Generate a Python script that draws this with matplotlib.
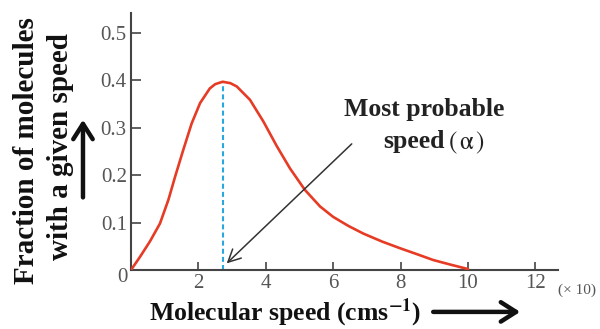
import matplotlib.pyplot as plt
from matplotlib.patches import FancyArrowPatch

# molecular speed (x 10 cm/s) vs fraction of molecules
speed = [0, 0.27, 0.56, 0.86, 1.11, 1.31, 1.55, 1.80, 2.05, 2.34, 2.5, 2.72, 2.95, 3.14,
         3.53, 3.93, 4.32, 4.72, 5.16, 5.61, 6.0, 6.45, 6.89, 7.45, 7.98, 8.5, 8.97, 9.5, 10.0]
fraction = [0, 0.028, 0.060, 0.098, 0.148, 0.197, 0.253, 0.309, 0.352, 0.383, 0.392, 0.397,
            0.394, 0.387, 0.359, 0.313, 0.262, 0.214, 0.169, 0.134, 0.112, 0.093, 0.077,
            0.060, 0.046, 0.033, 0.021, 0.011, 0.002]
peak_x, peak_y = 2.72, 0.397
xticks = [2, 4, 6, 8, 10, 12]
yticks = [0.1, 0.2, 0.3, 0.4, 0.5]
ytick_labels = ['0.1', '0.2', '0.3', '0.4', '0.5']

plt.rcParams['font.family'] = ['Liberation Serif', 'DejaVu Serif']
plt.rcParams['mathtext.fontset'] = 'stix'

fig = plt.figure(figsize=(6, 3.29), dpi=100)
ax = fig.add_axes([0.2183, 0.1793, 0.7117, 0.7812])

ax.plot(speed, fraction, color='#e63b25', lw=1.9, solid_joinstyle='round',
        solid_capstyle='round', zorder=3)
ax.plot([peak_x, peak_x], [0, peak_y], color='#2aa7df', lw=1.5, ls=(0, (2.4, 1.5)))

ax.set_xlim(0, 12.67)
ax.set_ylim(0, 0.542)
for s in ['top', 'right']:
    ax.spines[s].set_visible(False)
for s in ['left', 'bottom']:
    ax.spines[s].set_color('#444444')
    ax.spines[s].set_linewidth(1.5)

ax.set_xticks(xticks)
ax.set_yticks(yticks)
ax.set_yticklabels(ytick_labels)
ax.tick_params(axis='x', direction='in', length=6, width=1.2, colors='#444444',
               labelcolor='#555555', labelsize=15, pad=3)
ax.tick_params(axis='y', direction='in', length=7, width=1.2, colors='#444444',
               labelcolor='#555555', labelsize=15, pad=3)
ax.text(-0.24, -0.015, '0', ha='center', va='center', fontsize=15, color='#555555',
        clip_on=False)
fig.text(0.962, 0.119, '(× 10)', ha='center', va='center', fontsize=11, color='#555555')

ax.annotate('', xy=(2.84, 0.014), xytext=(6.55, 0.266),
            arrowprops=dict(arrowstyle='->, head_length=0.5, head_width=0.25',
                            color='#333333', lw=1.1, mutation_scale=18, shrinkA=0, shrinkB=0))
ax.text(8.69, 0.338, 'Most probable', ha='center', va='center', fontsize=18.5,
        fontweight='bold', color='#222222')
ax.text(9.3, 0.272, 'speed', ha='right', va='center', fontsize=18.5,
        fontweight='bold', color='#222222')
ax.text(9.42, 0.268, '$(\\,\\mathrm{\\alpha}\\,)$', ha='left', va='center', fontsize=18,
        color='#222222')

fig.text(0.045, 0.541, 'Fraction of molecules', rotation=90, ha='center', va='center',
         fontsize=21, fontweight='bold', color='#111111')
fig.text(0.100, 0.556, 'with a given speed', rotation=90, ha='center', va='center',
         fontsize=21, fontweight='bold', color='#111111')
fig.add_artist(FancyArrowPatch((0.1383, 0.40), (0.1383, 0.636), transform=fig.transFigure,
                               arrowstyle='->, head_length=0.55, head_width=0.35',
                               mutation_scale=20, lw=3.2, color='#111111',
                               shrinkA=0, shrinkB=0))

fig.text(0.475, 0.049, 'Molecular speed (cms$^{\\mathbf{-1}}$)', ha='center', va='center',
         fontsize=18.5, fontweight='bold', color='#111111')
fig.add_artist(FancyArrowPatch((0.722, 0.052), (0.867, 0.052), transform=fig.transFigure,
                               arrowstyle='->, head_length=0.55, head_width=0.35',
                               mutation_scale=20, lw=3.2, color='#111111',
                               shrinkA=0, shrinkB=0))

fig.savefig('out.png', dpi=100)
